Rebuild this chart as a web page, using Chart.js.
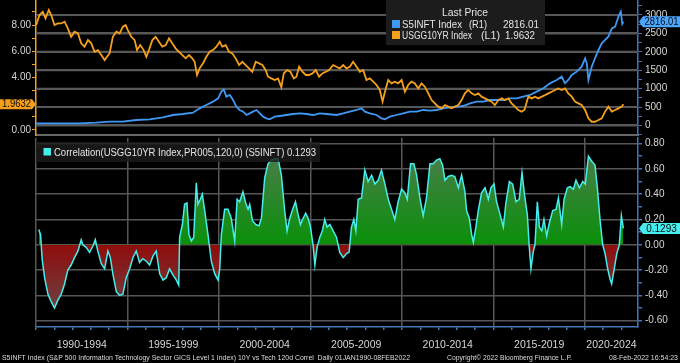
<!DOCTYPE html>
<html>
<head>
<meta charset="utf-8">
<script src="https://cdn.jsdelivr.net/npm/chart.js@4.4.1/dist/chart.umd.min.js"></script>
<style>
  html, body { margin: 0; padding: 0; background: #000; }
  #wrap { position: relative; width: 680px; height: 363px; overflow: hidden; background: #000; }
  canvas { position: absolute; left: 0; }
  #top { top: 0; }
  #bottom { top: 137px; }
</style>
</head>
<body>
<div id="wrap">
  <canvas id="top" width="680" height="137"></canvas>
  <canvas id="bottom" width="680" height="226"></canvas>
</div>
<script>
// Bloomberg style chart: US 10Y yield vs S&P 500 IT sector, and their 120d correlation

// --- data (x = decimal year) ---
const yieldYears = [1990.01, 1990.19, 1990.37, 1990.52, 1990.70, 1990.83, 1991.01, 1991.19, 1991.38, 1991.56, 1991.74, 1991.92,
  1992.11, 1992.29, 1992.47, 1992.65, 1992.84, 1993.02, 1993.20, 1993.38, 1993.57, 1993.75, 1993.88, 1994.02, 1994.20,
  1994.39, 1994.57, 1994.75, 1994.90, 1995.02, 1995.21, 1995.39, 1995.52, 1995.70, 1995.88, 1996.03, 1996.17, 1996.36,
  1996.54, 1996.72, 1996.90, 1997.09, 1997.27, 1997.45, 1997.63, 1997.81, 1998.00, 1998.18, 1998.36, 1998.54, 1998.67,
  1998.80, 1998.94, 1999.13, 1999.31, 1999.49, 1999.67, 1999.86, 2000.04, 2000.18, 2000.37, 2000.55, 2000.73, 2000.91,
  2001.10, 2001.28, 2001.46, 2001.64, 2001.82, 2002.01, 2002.19, 2002.37, 2002.55, 2002.68, 2002.86, 2003.05, 2003.23,
  2003.41, 2003.54, 2003.72, 2003.90, 2004.09, 2004.23, 2004.38, 2004.56, 2004.74, 2004.92, 2005.11, 2005.29, 2005.47,
  2005.65, 2005.84, 2006.02, 2006.24, 2006.42, 2006.60, 2006.79, 2006.97, 2007.15, 2007.33, 2007.52, 2007.70, 2007.88,
  2008.06, 2008.24, 2008.43, 2008.61, 2008.79, 2008.94, 2009.07, 2009.25, 2009.43, 2009.61, 2009.79, 2009.98, 2010.16,
  2010.34, 2010.52, 2010.71, 2010.89, 2011.07, 2011.25, 2011.44, 2011.62, 2011.80, 2011.98, 2012.17, 2012.35, 2012.53,
  2012.71, 2012.89, 2013.08, 2013.26, 2013.44, 2013.62, 2013.81, 2013.99, 2014.17, 2014.35, 2014.54, 2014.72, 2014.90,
  2015.08, 2015.27, 2015.45, 2015.63, 2015.81, 2015.99, 2016.18, 2016.36, 2016.54, 2016.70, 2016.85, 2016.91, 2017.09,
  2017.27, 2017.45, 2017.64, 2017.82, 2018.00, 2018.18, 2018.37, 2018.55, 2018.73, 2018.91, 2019.09, 2019.28, 2019.46,
  2019.64, 2019.82, 2020.01, 2020.19, 2020.37, 2020.55, 2020.74, 2020.92, 2021.10, 2021.28, 2021.47, 2021.65, 2021.83,
  2022.01, 2022.10];
const yieldValues = [8.00, 8.76, 9.00, 8.50, 9.14, 8.76, 8.00, 8.12, 8.12, 8.25, 7.74, 7.10,
  7.49, 7.36, 6.60, 6.35, 6.85, 6.60, 5.96, 6.09, 5.71, 5.33, 5.58, 5.84, 7.10,
  7.49, 7.36, 7.87, 8.00, 7.61, 7.10, 6.85, 6.09, 6.47, 6.09, 5.58, 6.09, 6.85,
  7.10, 6.73, 6.35, 6.47, 6.98, 6.60, 6.22, 5.96, 5.71, 5.46, 5.71, 5.46, 5.20,
  4.19, 4.70, 5.08, 5.58, 5.96, 6.09, 6.35, 6.73, 6.35, 6.47, 5.96, 5.84, 5.46,
  4.95, 5.20, 4.95, 4.70, 4.44, 5.20, 5.08, 4.95, 4.57, 4.06, 3.93, 3.81, 3.93,
  3.25, 4.31, 4.57, 4.44, 3.93, 4.06, 4.82, 4.44, 4.19, 4.19, 4.31, 4.57, 4.06,
  4.31, 4.44, 4.57, 4.95, 4.82, 4.70, 4.95, 4.70, 4.82, 5.20, 4.82, 4.44, 4.57,
  3.81, 3.93, 3.68, 3.43, 3.05, 2.16, 2.92, 3.81, 3.55, 3.68, 3.55, 3.81, 2.92,
  3.43, 3.68, 3.55, 3.17, 3.55, 3.30, 2.79, 2.28, 2.03, 1.78, 1.65, 1.90, 1.78,
  1.65, 1.78, 1.90, 2.28, 2.79, 3.05, 2.79, 2.66, 2.79, 2.54, 2.41, 2.28, 2.16,
  1.90, 2.28, 2.41, 2.28, 2.41, 2.03, 1.78, 1.52, 1.40, 1.55, 2.28, 2.54, 2.41,
  2.54, 2.41, 2.54, 2.66, 2.79, 2.92, 3.05, 3.17, 3.05, 3.17, 2.79, 2.54, 2.16,
  2.03, 1.90, 1.52, 0.89, 0.63, 0.63, 0.76, 0.89, 1.40, 1.78, 1.40, 1.52, 1.65,
  1.78, 1.9632];

const techYears = [1990.01, 1990.74, 1991.47, 1992.38, 1993.29, 1994.02, 1994.75, 1995.48, 1996.21, 1996.94, 1997.49,
  1998.03, 1998.58, 1998.94, 1999.31, 1999.67, 1999.95, 2000.13, 2000.26, 2000.40, 2000.59, 2000.77, 2000.95, 2001.13,
  2001.32, 2001.50, 2001.68, 2001.86, 2002.05, 2002.23, 2002.41, 2002.59, 2002.77, 2003.05, 2003.32, 2003.69, 2004.05,
  2004.42, 2004.78, 2005.15, 2005.51, 2005.88, 2006.42, 2006.79, 2007.15, 2007.52, 2007.79, 2007.97, 2008.24, 2008.61,
  2008.88, 2009.07, 2009.34, 2009.70, 2010.07, 2010.43, 2010.80, 2011.16, 2011.53, 2011.89, 2012.26, 2012.62, 2012.99,
  2013.35, 2013.72, 2014.08, 2014.44, 2014.81, 2015.17, 2015.54, 2015.90, 2016.27, 2016.63, 2017.00, 2017.36, 2017.73,
  2018.09, 2018.46, 2018.73, 2018.91, 2019.09, 2019.28, 2019.55, 2019.82, 2020.01, 2020.10, 2020.19, 2020.37, 2020.55,
  2020.74, 2020.92, 2021.10, 2021.28, 2021.47, 2021.65, 2021.83, 2021.96, 2022.04, 2022.10];
const techValues = [59, 59, 59, 59, 77, 104, 104, 149, 167, 222, 285,
  312, 348, 466, 557, 647, 738, 919, 982, 783, 828, 692, 511, 421,
  376, 285, 330, 376, 421, 330, 240, 195, 167, 240, 258, 285, 312,
  330, 312, 285, 330, 312, 285, 330, 376, 421, 466, 376, 330, 285,
  195, 167, 240, 285, 330, 376, 376, 421, 403, 421, 466, 494, 511,
  529, 602, 647, 647, 692, 692, 692, 738, 738, 783, 828, 919, 1009,
  1145, 1235, 1326, 1145, 1235, 1371, 1462, 1597, 1824, 1688, 1235, 1597, 1824,
  2050, 2231, 2322, 2412, 2638, 2683, 2955, 3090, 2760, 2816.01];

const corrYears = [1990.15, 1990.25, 1990.34, 1990.47, 1990.65, 1990.83, 1991.01, 1991.19, 1991.38, 1991.56, 1991.74,
  1991.92, 1992.11, 1992.29, 1992.47, 1992.56, 1992.74, 1992.93, 1993.11, 1993.24, 1993.38, 1993.57, 1993.75, 1993.93,
  1994.06, 1994.20, 1994.39, 1994.57, 1994.75, 1994.93, 1995.12, 1995.30, 1995.48, 1995.66, 1995.84, 1996.03, 1996.21,
  1996.39, 1996.57, 1996.76, 1996.94, 1997.12, 1997.30, 1997.49, 1997.67, 1997.80, 1997.85, 1998.00, 1998.12, 1998.25,
  1998.36, 1998.49, 1998.62, 1998.76, 1998.85, 1998.98, 1999.09, 1999.22, 1999.40, 1999.58, 1999.77, 1999.95, 2000.04,
  2000.13, 2000.31, 2000.49, 2000.67, 2000.86, 2000.99, 2001.13, 2001.31, 2001.46, 2001.59, 2001.68, 2001.83, 2002.01,
  2002.19, 2002.32, 2002.50, 2002.68, 2002.86, 2003.05, 2003.23, 2003.41, 2003.59, 2003.72, 2003.87, 2004.05, 2004.18,
  2004.32, 2004.45, 2004.60, 2004.74, 2004.87, 2005.00, 2005.14, 2005.24, 2005.36, 2005.51, 2005.65, 2005.78, 2005.91,
  2006.06, 2006.24, 2006.42, 2006.60, 2006.79, 2006.97, 2007.11, 2007.24, 2007.37, 2007.48, 2007.61, 2007.79, 2007.97,
  2008.15, 2008.34, 2008.52, 2008.70, 2008.88, 2009.07, 2009.25, 2009.43, 2009.61, 2009.79, 2009.98, 2010.16, 2010.29,
  2010.47, 2010.65, 2010.80, 2010.98, 2011.16, 2011.34, 2011.53, 2011.71, 2011.89, 2012.07, 2012.22, 2012.35, 2012.53,
  2012.71, 2012.89, 2013.08, 2013.26, 2013.44, 2013.53, 2013.68, 2013.81, 2013.90, 2014.04, 2014.17, 2014.35, 2014.54,
  2014.72, 2014.86, 2015.03, 2015.17, 2015.36, 2015.54, 2015.68, 2015.87, 2016.05, 2016.23, 2016.41, 2016.56, 2016.72,
  2016.85, 2016.96, 2017.05, 2017.18, 2017.27, 2017.40, 2017.51, 2017.64, 2017.76, 2017.91, 2018.05, 2018.24, 2018.42,
  2018.55, 2018.73, 2018.86, 2019.04, 2019.19, 2019.37, 2019.51, 2019.70, 2019.88, 2020.02, 2020.19, 2020.37, 2020.55,
  2020.68, 2020.83, 2020.97, 2021.10, 2021.23, 2021.37, 2021.46, 2021.59, 2021.74, 2021.88, 2021.99, 2022.10];
const corrValues = [0.12, 0.08, -0.12, -0.26, -0.39, -0.45, -0.50, -0.44, -0.39, -0.31, -0.20,
  -0.16, -0.10, -0.05, 0.04, 0.00, -0.02, -0.06, -0.01, 0.04, -0.05, -0.15, -0.19, -0.05,
  -0.10, -0.23, -0.37, -0.40, -0.39, -0.26, -0.19, -0.10, -0.05, -0.14, -0.11, -0.13, -0.16,
  -0.09, -0.05, -0.23, -0.28, -0.26, -0.19, -0.24, -0.28, -0.32, 0.06, 0.16, 0.32, 0.33,
  0.08, 0.03, 0.06, 0.49, 0.32, 0.36, 0.40, 0.27, 0.08, -0.13, -0.23, -0.28, -0.19,
  0.08, 0.28, 0.28, 0.21, 0.03, 0.36, 0.34, 0.42, 0.33, 0.28, 0.32, 0.19, 0.16,
  0.15, 0.21, 0.53, 0.64, 0.67, 0.68, 0.68, 0.55, 0.27, 0.11, 0.21, 0.29, 0.34,
  0.24, 0.16, 0.21, 0.25, 0.21, 0.14, 0.00, -0.16, -0.02, 0.06, 0.11, 0.20, 0.14,
  0.16, 0.11, 0.06, -0.06, -0.10, -0.07, -0.06, 0.14, 0.20, 0.11, 0.36, 0.37, 0.59,
  0.50, 0.55, 0.48, 0.51, 0.59, 0.48, 0.36, 0.28, 0.20, 0.34, 0.44, 0.41, 0.36,
  0.64, 0.64, 0.55, 0.37, 0.23, 0.37, 0.64, 0.64, 0.67, 0.68, 0.63, 0.51, 0.54,
  0.55, 0.54, 0.45, 0.55, 0.42, 0.27, 0.21, 0.08, 0.02, 0.14, 0.27, 0.41, 0.45,
  0.36, 0.45, 0.48, 0.34, 0.24, 0.14, 0.33, 0.50, 0.48, 0.34, 0.36, 0.57, 0.37,
  0.24, -0.02, -0.19, -0.05, 0.00, 0.34, 0.14, 0.11, 0.20, 0.07, 0.17, 0.27, 0.28,
  0.37, 0.16, 0.36, 0.45, 0.46, 0.44, 0.51, 0.45, 0.50, 0.48, 0.70, 0.66, 0.63,
  0.45, 0.19, 0.00, -0.07, -0.18, -0.27, -0.31, -0.20, -0.07, 0.00, 0.23, 0.1293];

const periodStarts = [1990, 1995, 2000, 2005, 2010, 2015, 2020];
const periodLabels = ['1990-1994', '1995-1999', '2000-2004', '2005-2009', '2010-2014', '2015-2019', '2020-2024'];
const yearMarks = [1990, 1991, 1992, 1993, 1994, 1995, 1996, 1997, 1998, 1999, 2000, 2001, 2002, 2003, 2004, 2005,
  2006, 2007, 2008, 2009, 2010, 2011, 2012, 2013, 2014, 2015, 2016, 2017, 2018, 2019, 2020, 2021, 2022];
const techTicks = [0, 500, 1000, 1500, 2000, 2500, 3000];

const X_MIN = 1990;
const X_MAX = 2022.9;

const ORANGE = '#f5a01c';
const BLUE = '#3f98f2';
const CYAN = '#46eded';
const GRID = '#575757';
const AXIS_BLUE = '#4277b5';
const LABEL = '#d6d6d6';
const FONT = "'Liberation Sans', Arial, sans-serif";

Chart.defaults.font.family = FONT;
Chart.defaults.font.size = 10;
Chart.defaults.color = LABEL;

function toXY(xs, ys) {
  return xs.map((x, i) => ({ x: x, y: ys[i] }));
}

function last(arr) {
  return arr[arr.length - 1];
}

function fixWidth(w) {
  return (s) => { s.width = w; s.paddingTop = 0; s.paddingBottom = 0; };
}

function fixHeight(h) {
  return (s) => { s.height = h; s.paddingLeft = 0; s.paddingRight = 0; };
}

// value tag drawn next to an axis, pointing at the value
function drawTag(ctx, y, side, bg, text) {
  ctx.save();
  ctx.fillStyle = bg;
  ctx.beginPath();
  if (side === 'left') {
    ctx.moveTo(0, y - 5);
    ctx.lineTo(32, y - 5);
    ctx.lineTo(36, y);
    ctx.lineTo(32, y + 5);
    ctx.lineTo(0, y + 5);
  } else {
    ctx.moveTo(639, y);
    ctx.lineTo(643, y - 5.5);
    ctx.lineTo(680, y - 5.5);
    ctx.lineTo(680, y + 5.5);
    ctx.lineTo(643, y + 5.5);
  }
  ctx.closePath();
  ctx.fill();
  ctx.fillStyle = '#0b0b0b';
  ctx.font = '10px ' + FONT;
  ctx.textAlign = 'center';
  ctx.textBaseline = 'middle';
  if (side === 'left') ctx.fillText(text, 16.5, y + 0.5, 29);
  else ctx.fillText(text, 661.5, y + 0.5, 34);
  ctx.restore();
}

const topOverlay = {
  id: 'topOverlay',
  beforeDatasetsDraw(chart) {
    // right-axis grid, through the chart's own scale
    const ctx = chart.ctx;
    const area = chart.chartArea;
    const yR = chart.scales.yR;
    ctx.save();
    ctx.strokeStyle = GRID;
    ctx.lineWidth = 2;
    techTicks.forEach((v) => {
      const y = Math.round(yR.getPixelForValue(v));
      ctx.beginPath();
      ctx.moveTo(area.left, y);
      ctx.lineTo(area.right, y);
      ctx.stroke();
    });
    ctx.restore();
  },
  afterDraw(chart) {
    const ctx = chart.ctx;
    drawTag(ctx, chart.scales.yL.getPixelForValue(last(yieldValues)), 'left', ORANGE, last(yieldValues).toFixed(4));
    drawTag(ctx, chart.scales.yR.getPixelForValue(last(techValues)), 'right', '#4aa6ff', last(techValues).toFixed(2));

    // legend box
    ctx.save();
    ctx.fillStyle = '#1c1c1c';
    ctx.fillRect(386, 0, 159, 45);
    ctx.fillStyle = '#e4e4e4';
    ctx.font = '11px ' + FONT;
    ctx.textBaseline = 'middle';
    ctx.textAlign = 'center';
    ctx.fillText('Last Price', 465, 12.5, 46);
    ctx.textAlign = 'left';
    ctx.fillStyle = BLUE;
    ctx.fillRect(392, 20, 8, 8);
    ctx.fillStyle = ORANGE;
    ctx.fillRect(392, 31, 8, 8);
    ctx.fillStyle = '#e4e4e4';
    ctx.fillText('S5INFT Index', 402, 24.5, 60);
    ctx.fillText('(R1)', 469, 24.5, 18);
    ctx.fillText('USGG10YR Index', 402, 35.5, 70);
    ctx.fillText('(L1)', 481, 35.5, 19);
    ctx.fillText(last(yieldValues).toFixed(4), 505, 35.5, 30);
    ctx.textAlign = 'right';
    ctx.fillText(last(techValues).toFixed(2), 539, 24.5, 36);
    ctx.restore();
  }
};

const bottomOverlay = {
  id: 'bottomOverlay',
  afterDraw(chart) {
    const ctx = chart.ctx;
    drawTag(ctx, chart.scales.y.getPixelForValue(last(corrValues)), 'right', CYAN, last(corrValues).toFixed(4));

    ctx.save();
    ctx.fillStyle = 'rgba(28,28,28,0.82)';
    ctx.fillRect(36, 5, 284, 20);
    ctx.fillStyle = CYAN;
    ctx.fillRect(43.5, 11, 7.5, 7.5);
    ctx.fillStyle = '#e4e4e4';
    ctx.font = '11px ' + FONT;
    ctx.textBaseline = 'middle';
    ctx.textAlign = 'left';
    ctx.fillText('Correlation(USGG10YR Index,PR005,120,0) (S5INFT) ' + last(corrValues).toFixed(4), 54, 15.5, 262);

    // footer
    ctx.font = '7px ' + FONT;
    ctx.fillStyle = '#dcdcdc';
    ctx.fillText('S5INFT Index (S&P 500 Information Technology Sector GICS Level 1 Index) 10Y vs Tech 120d Correl  Daily 01JAN1990-08FEB2022', 2, 221, 408);
    ctx.fillText('Copyright\u00a9 2022 Bloomberg Finance L.P.', 447, 221, 125);
    ctx.fillText('08-Feb-2022 16:54:23', 609, 221, 69);
    ctx.restore();
  }
};

// horizontal reference lines of the right axis, as flat series on that axis
const techGridSets = techTicks.map((v) => ({
  label: 'grid ' + v,
  data: [{ x: X_MIN, y: v }, { x: X_MAX, y: v }],
  yAxisID: 'yR',
  borderColor: GRID,
  borderWidth: 2,
  pointRadius: 0,
  fill: false,
}));

const topChart = new Chart(document.getElementById('top'), {
  type: 'line',
  data: {
    datasets: [
      {
        label: 'USGG10YR Index (L1)',
        data: toXY(yieldYears, yieldValues),
        yAxisID: 'yL',
        borderColor: ORANGE,
        borderWidth: 1.8,
        pointRadius: 0,
        tension: 0,
        fill: false,
      },
      {
        label: 'S5INFT Index (R1)',
        data: toXY(techYears, techValues),
        yAxisID: 'yR',
        borderColor: BLUE,
        borderWidth: 1.8,
        pointRadius: 0,
        tension: 0,
        fill: false,
      },
    ].concat(techGridSets),
  },
  options: {
    responsive: false,
    animation: false,
    events: [],
    layout: { padding: 0 },
    plugins: { legend: { display: false }, tooltip: { enabled: false } },
    scales: {
      x: {
        type: 'linear',
        min: X_MIN,
        max: X_MAX,
        ticks: { display: false },
        grid: { display: false },
        border: { color: '#666666', width: 2 },
        afterFit: fixHeight(2),
      },
      yL: {
        position: 'left',
        min: -0.381,
        max: 9.905,
        ticks: {
          stepSize: 1,
          autoSkip: false,
          includeBounds: false,
          padding: 1,
          color: LABEL,
          callback: (v) => (v % 2 === 0 && v !== 2 ? v.toFixed(2) : ''),
        },
        grid: { drawOnChartArea: false, tickColor: ORANGE, tickLength: 4 },
        border: { color: ORANGE, width: 1.5 },
        afterFit: fixWidth(36),
      },
      yR: {
        position: 'right',
        min: -258,
        max: 3407,
        ticks: {
          stepSize: 250,
          autoSkip: false,
          includeBounds: false,
          padding: 3,
          color: LABEL,
          callback: (v) => (v % 500 === 0 ? String(v) : ''),
        },
        grid: { drawOnChartArea: false, tickColor: AXIS_BLUE, tickLength: 4 },
        border: { color: AXIS_BLUE, width: 1.5 },
        afterFit: fixWidth(42),
      },
    },
  },
  plugins: [topOverlay],
});

// x ticks: a mark each year plus the period label in the middle of each 5-year block
const labelPos = periodStarts.map((s) => (s + Math.min(s + 5, X_MAX)) / 2);
const xTickValues = yearMarks.concat(labelPos).sort((a, b) => a - b);

const corrChart = new Chart(document.getElementById('bottom'), {
  type: 'line',
  data: {
    datasets: [
      {
        label: 'Correlation(USGG10YR Index,PR005,120,0) (S5INFT)',
        data: toXY(corrYears, corrValues),
        borderColor: CYAN,
        borderWidth: 1.5,
        pointRadius: 0,
        tension: 0,
        fill: { target: { value: 0 }, above: '#178a17', below: '#8a1010' },
      },
    ],
  },
  options: {
    responsive: false,
    animation: false,
    events: [],
    layout: { padding: { left: 36, top: 0, right: 0, bottom: 0 } },
    plugins: { legend: { display: false }, tooltip: { enabled: false } },
    scales: {
      x: {
        type: 'linear',
        min: X_MIN,
        max: X_MAX,
        afterBuildTicks: (s) => { s.ticks = xTickValues.map((v) => ({ value: v })); },
        ticks: {
          autoSkip: false,
          maxRotation: 0,
          padding: 9,
          color: LABEL,
          font: { size: 10.5 },
          callback: (v) => {
            const i = labelPos.indexOf(v);
            return i >= 0 ? periodLabels[i] : '';
          },
        },
        grid: {
          color: (c) => (c.tick && periodStarts.includes(c.tick.value) ? GRID : 'rgba(0,0,0,0)'),
          tickColor: (c) => (c.tick && Number.isInteger(c.tick.value) ? AXIS_BLUE : 'rgba(0,0,0,0)'),
          tickLength: 3,
          lineWidth: 1.5,
        },
        border: { color: AXIS_BLUE, width: 1.5 },
        afterFit: fixHeight(36),
      },
      y: {
        position: 'right',
        min: -0.65,
        max: 0.846,
        ticks: {
          stepSize: 0.1,
          autoSkip: false,
          includeBounds: false,
          padding: 3,
          color: LABEL,
          callback: (v) => {
            if (Math.round(v * 10) % 2 !== 0) return '';
            return Math.abs(v) < 1e-9 ? '0.00' : v.toFixed(2);
          },
        },
        grid: {
          color: (c) => (c.tick && Math.round(c.tick.value * 10) % 2 === 0 ? GRID : 'rgba(0,0,0,0)'),
          tickColor: AXIS_BLUE,
          tickLength: 4,
          lineWidth: 1.5,
        },
        border: { color: AXIS_BLUE, width: 1.5 },
        afterFit: fixWidth(42),
      },
    },
  },
  plugins: [bottomOverlay],
});

// shaded fills: strong near zero, greyer away from it
const yScale = corrChart.scales.y;
const g = corrChart.ctx;
const aboveFill = g.createLinearGradient(0, yScale.getPixelForValue(0.8), 0, yScale.getPixelForValue(0));
aboveFill.addColorStop(0, '#527a52');
aboveFill.addColorStop(1, '#0a900a');
const belowFill = g.createLinearGradient(0, yScale.getPixelForValue(0), 0, yScale.getPixelForValue(-0.55));
belowFill.addColorStop(0, '#900c0c');
belowFill.addColorStop(1, '#6a4444');
corrChart.data.datasets[0].fill.above = aboveFill;
corrChart.data.datasets[0].fill.below = belowFill;
corrChart.update('none');
</script>
</body>
</html>
